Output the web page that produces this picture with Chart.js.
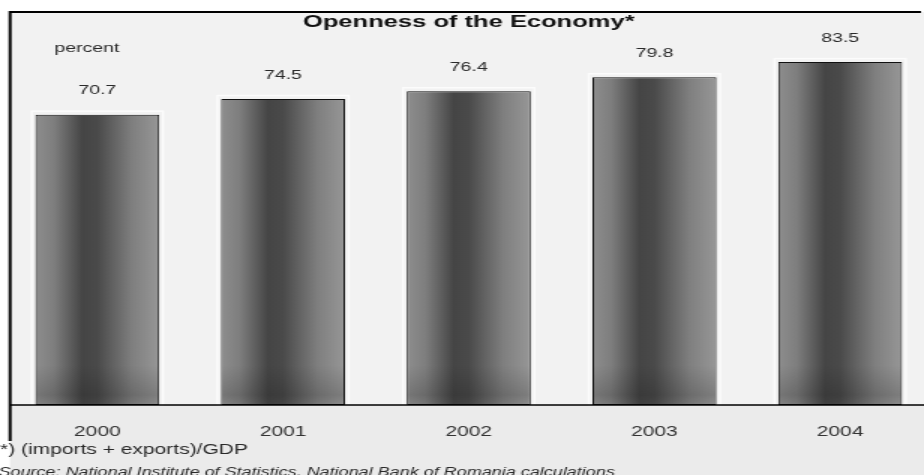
<!DOCTYPE html>
<html>
<head>
<meta charset="utf-8">
<script src="https://cdn.jsdelivr.net/npm/chart.js@4/dist/chart.umd.min.js"></script>
<style>
  html, body { margin: 0; padding: 0; overflow: hidden; background: #fff; }
  /* the whole figure is drawn narrow and widened, like the printed original */
  #wrap { width: 627px; height: 475px; transform: scaleX(1.5); transform-origin: 0 0; }
</style>
</head>
<body>
<div id="wrap"><canvas id="chart" width="627" height="475"></canvas></div>
<script>
const years = ['2000', '2001', '2002', '2003', '2004'];
const openness = [70.7, 74.5, 76.4, 79.8, 83.5];
const yAxisRange = [0, 90];

const FONT = "'Liberation Sans', Arial, sans-serif";
const BAR_FRACTION = 0.667;
const FRAME_LEFT = 6.7;
const FRAME_TOP = 12;

// horizontal shading for each bar, light edges and a dark core left of centre
function barGradient(ctx) {
  const chart = ctx.chart;
  const xs = chart.scales.x;
  if (!xs || ctx.type !== 'data') return '#666';
  const cx = xs.getPixelForValue(ctx.dataIndex);
  const half = xs.width / years.length * BAR_FRACTION / 2;
  if (!isFinite(cx) || !isFinite(half) || half <= 0) return '#666';
  const g = chart.ctx.createLinearGradient(cx - half, 0, cx + half, 0);
  g.addColorStop(0, '#8e8e8e');
  g.addColorStop(0.15, '#7e7e7e');
  g.addColorStop(0.38, '#454545');
  g.addColorStop(0.5, '#4a4a4a');
  g.addColorStop(0.78, '#7f7f7f');
  g.addColorStop(1, '#979797');
  return g;
}

const frameAndNotes = {
  id: 'frameAndNotes',
  beforeDraw(chart) {
    const { ctx, width, height, chartArea } = chart;
    ctx.save();
    ctx.fillStyle = '#ffffff';
    ctx.fillRect(0, 0, width, height);
    ctx.fillStyle = '#ebebeb';
    ctx.fillRect(FRAME_LEFT, FRAME_TOP, width - FRAME_LEFT, height - FRAME_TOP);
    ctx.fillStyle = '#f2f2f2';
    ctx.fillRect(FRAME_LEFT, FRAME_TOP, width - FRAME_LEFT, chartArea.bottom - FRAME_TOP);
    ctx.restore();
  },
  beforeDatasetsDraw(chart) {
    // pale halo around each bar
    const { ctx } = chart;
    ctx.save();
    ctx.strokeStyle = 'rgba(255,255,255,0.75)';
    ctx.lineWidth = 1.5;
    chart.getDatasetMeta(0).data.forEach(bar => {
      ctx.strokeRect(bar.x - bar.width / 2 - 2.5, bar.y - 3.5, bar.width + 5, bar.base - bar.y + 3.5);
    });
    ctx.restore();
  },
  afterDatasetsDraw(chart) {
    const { ctx } = chart;
    ctx.save();
    chart.getDatasetMeta(0).data.forEach((bar, i) => {
      const half = bar.width / 2 - 0.5;
      // darker band near the foot of the bar
      const g = ctx.createLinearGradient(0, bar.base - 40, 0, bar.base);
      g.addColorStop(0, 'rgba(0,0,0,0)');
      g.addColorStop(0.75, 'rgba(0,0,0,0.16)');
      g.addColorStop(1, 'rgba(0,0,0,0.06)');
      ctx.fillStyle = g;
      ctx.fillRect(bar.x - half, bar.base - 40, half * 2, 39.5);

      ctx.fillStyle = '#2a2a2a';
      ctx.font = `13px ${FONT}`;
      ctx.textAlign = 'center';
      ctx.textBaseline = 'middle';
      ctx.fillText(openness[i].toFixed(1), bar.x, bar.y - 24);
    });
    ctx.restore();
  },
  afterDraw(chart) {
    const { ctx, width, chartArea } = chart;
    ctx.save();
    ctx.strokeStyle = '#000';
    ctx.lineWidth = 2;
    ctx.beginPath();
    ctx.moveTo(FRAME_LEFT, 441);
    ctx.lineTo(FRAME_LEFT, FRAME_TOP);
    ctx.lineTo(614, FRAME_TOP);
    ctx.stroke();

    ctx.lineWidth = 1.5;
    ctx.beginPath();
    ctx.moveTo(FRAME_LEFT, chartArea.bottom);
    ctx.lineTo(width, chartArea.bottom);
    ctx.stroke();

    ctx.fillStyle = '#2a2a2a';
    ctx.textBaseline = 'middle';
    ctx.textAlign = 'center';
    ctx.font = `13px ${FONT}`;
    ctx.fillText('percent', 58, 48);

    ctx.textAlign = 'left';
    ctx.font = `14px ${FONT}`;
    ctx.fillText('*) (imports + exports)/GDP', 0, 450);
    ctx.font = `italic 12px ${FONT}`;
    ctx.fillText('Source: National Institute of Statistics, National Bank of Romania calculations', -1, 473);
    ctx.restore();
  }
};

new Chart(document.getElementById('chart'), {
  type: 'bar',
  data: {
    labels: years,
    datasets: [{
      data: openness,
      backgroundColor: barGradient,
      borderColor: '#111',
      borderWidth: 1,
      borderSkipped: false,
      barPercentage: BAR_FRACTION,
      categoryPercentage: 1
    }]
  },
  options: {
    responsive: false,
    animation: false,
    devicePixelRatio: 1,
    layout: { padding: { left: 3, right: 5, top: 0, bottom: 0 } },
    plugins: {
      legend: { display: false },
      tooltip: { enabled: false },
      title: {
        display: true,
        text: 'Openness of the Economy*',
        color: '#111',
        font: { family: FONT, size: 17, weight: 'bold' },
        padding: { top: 12, bottom: 3 }
      }
    },
    scales: {
      x: {
        grid: { display: false },
        border: { display: false },
        ticks: { color: '#333', padding: 11, font: { family: FONT, size: 14 } },
        afterFit(scale) { scale.height = 70; }
      },
      y: {
        display: false,
        min: yAxisRange[0],
        max: yAxisRange[1]
      }
    }
  },
  plugins: [frameAndNotes]
});
</script>
</body>
</html>
